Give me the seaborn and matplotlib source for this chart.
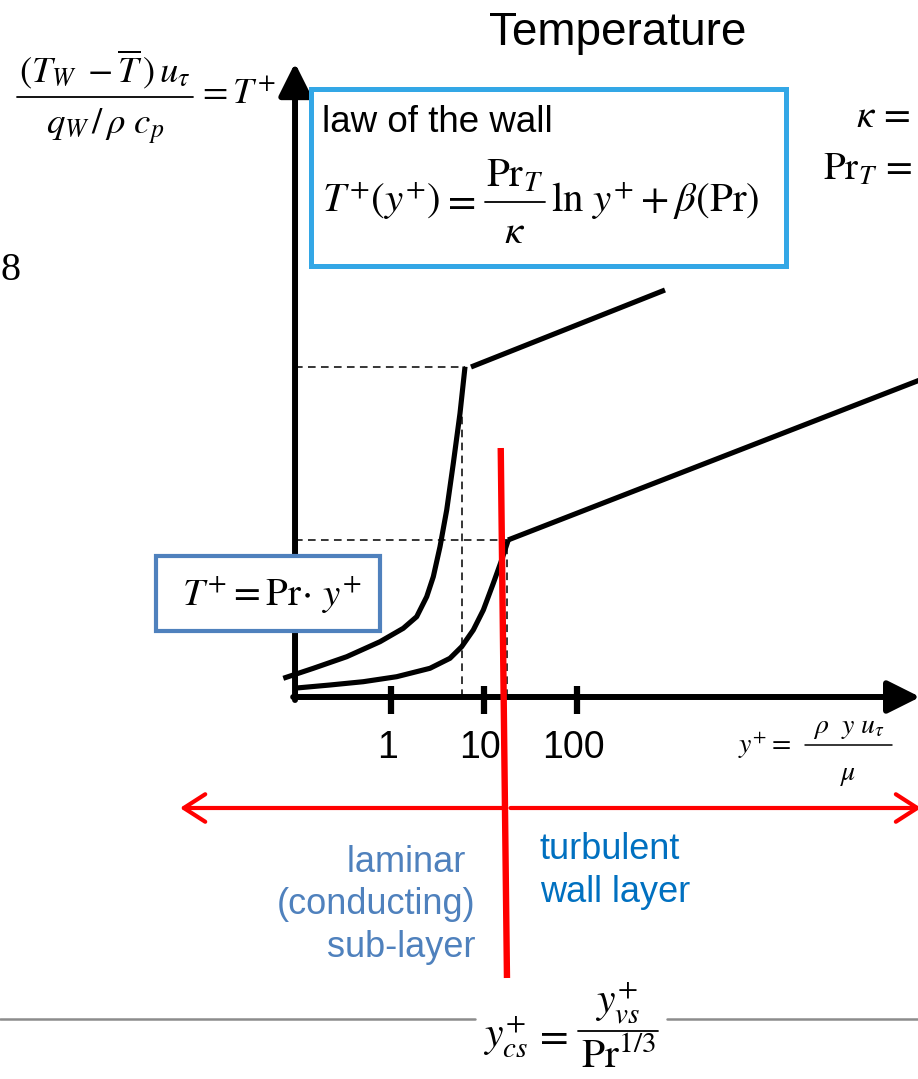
import numpy as np
import pandas as pd
import matplotlib
matplotlib.use("Agg")
import matplotlib.pyplot as plt
from matplotlib.patches import Rectangle
import seaborn as sns

# ---- schematic data: x = log10(y+), y = T+ (arbitrary units) ----
tick_values = [1, 10, 100]
tick_labels = ["1", "10", "100"]

# high-Pr profile: conducting sub-layer branch, then log-law branch
hi_sub_x = [-1.158, -0.835, -0.476, -0.118, 0.132, 0.276, 0.384, 0.455,
            0.527, 0.599, 0.670, 0.742, 0.796]
hi_sub_T = [1.87, 2.87, 4.03, 5.53, 6.87, 8.03, 10.03, 12.03,
            15.03, 18.7, 23.37, 28.37, 33.03]
hi_log_x = [0.860, 2.946]
hi_log_T = [33.0, 40.7]

# low-Pr profile
lo_sub_x = [-1.051, -0.656, -0.298, 0.061, 0.419, 0.634, 0.760, 0.885,
            0.993, 1.100, 1.190, 1.261]
lo_sub_T = [0.87, 1.2, 1.53, 2.03, 2.87, 3.87, 5.03, 6.7,
            8.7, 11.37, 13.7, 15.7]
lo_log_x = [1.258, 5.742]
lo_log_T = [15.7, 31.9]

# guide levels (dashed) and the y_cs+ divider
guide_T = [33.0, 15.7]
guide_x_end = [0.796, 1.26]
guide_vx = [0.763, 1.247]
guide_vT = [28.4, 15.7]
ycs_x = [1.180, 1.247]
ycs_T = [24.9, -28.1]

# axis frame of the sketch
x_origin = -1.032
x_tip = 5.69
T_tip = 63.4
layer_arrow_T = -11.1
layer_arrow_left = -2.269

W, H = 918, 1079

sns.set_theme(style="white")
plt.rcParams["font.family"] = ["Liberation Sans", "DejaVu Sans"]
plt.rcParams["mathtext.fontset"] = "stix"

fig = plt.figure(figsize=(W / 100, H / 100), dpi=100)
ax = fig.add_axes([0, 0, 1, 1])
ax.set_xlim(-391 / 93, (W - 391) / 93)
ax.set_ylim((697 - H) / 10, 697 / 10)
ax.axis("off")


def fig_pos(px, py):
    return px / W, 1 - py / H


def put(px, py, s, size, ha="left", va="baseline", **kw):
    kw.setdefault("color", "black")
    return fig.text(*fig_pos(px, py), s, ha=ha, va=va, fontsize=size, **kw)


def fraction(x0, x1, bar_y, num, num_base, den, den_base, size, lw=1.3):
    cx = 0.5 * (x0 + x1)
    put(cx, num_base, num, size, ha="center", zorder=8)
    put(cx, den_base, den, size, ha="center", zorder=8)
    fig.add_artist(plt.Line2D([x0 / W, x1 / W], [1 - bar_y / H] * 2,
                              color="black", lw=lw,
                              transform=fig.transFigure, zorder=8))


# ---- coordinate arrows ----
arrow_kw = dict(arrowstyle="-|>,head_length=0.9,head_width=0.45",
                color="black", lw=4.3, shrinkA=0, shrinkB=0,
                mutation_scale=22)
ax.annotate("", xy=(x_origin, T_tip), xytext=(x_origin, -0.3),
            arrowprops=arrow_kw, zorder=3, annotation_clip=False)
ax.annotate("", xy=(x_tip, 0), xytext=(x_origin - 0.02, 0),
            arrowprops=arrow_kw, zorder=3, annotation_clip=False)

# decade ticks
tick_x = np.log10(tick_values)
ax.vlines(tick_x, -1.7, 1.1, color="black", lw=4.5, zorder=3)
for tx, lab in zip(tick_x, tick_labels):
    ax.text(tx - 0.04, -5.1, lab, ha="center", va="center", fontsize=27,
            color="black")

# ---- dashed guides ----
for T, xe in zip(guide_T, guide_x_end):
    ax.plot([x_origin, xe], [T, T], color="black", lw=1.1,
            ls=(0, (5, 3.5)), zorder=2)
for vx, vT in zip(guide_vx, guide_vT):
    ax.plot([vx, vx], [0, vT], color="black", lw=1.1,
            ls=(0, (5, 3.5)), zorder=2)

# ---- temperature profiles ----
profiles = [(hi_sub_x, hi_sub_T), (hi_log_x, hi_log_T),
            (lo_sub_x, lo_sub_T), (lo_log_x, lo_log_T)]
for xs, Ts in profiles:
    sns.lineplot(x=xs, y=Ts, ax=ax, color="black", lw=3.7, sort=False,
                 estimator=None, zorder=4,
                 solid_capstyle="butt", solid_joinstyle="round")

# ---- layer divider and extent arrows ----
red = "#FF0000"
ax.plot(ycs_x, ycs_T, color=red, lw=4.6, zorder=5, solid_capstyle="butt")
red_kw = dict(arrowstyle="->,head_length=0.7,head_width=0.45", color=red,
              lw=3.0, shrinkA=0, shrinkB=0, mutation_scale=22,
              capstyle="round")
ax.annotate("", xy=(layer_arrow_left, layer_arrow_T),
            xytext=(1.20, layer_arrow_T), arrowprops=red_kw, zorder=5,
            annotation_clip=False)
ax.annotate("", xy=(x_tip + 0.01, layer_arrow_T),
            xytext=(1.285, layer_arrow_T), arrowprops=red_kw, zorder=5,
            annotation_clip=False)

# ---- boxes ----
box1 = Rectangle(fig_pos(311, 266), (786 - 311) / W, (266 - 89) / H,
                 transform=fig.transFigure, facecolor="white",
                 edgecolor="#33A7E6", lw=3.6, zorder=6)
box2 = Rectangle(fig_pos(155.5, 631), (379.5 - 155.5) / W, (631 - 556) / H,
                 transform=fig.transFigure, facecolor="white",
                 edgecolor="#4F81BD", lw=3.0, zorder=6)
ax.add_patch(box1)
ax.add_patch(box2)

# ---- text ----
put(618, 33, "Temperature", 33, ha="center", va="center")
put(322, 123, "law of the wall", 26.5, va="center", zorder=8)

# law of the wall formula
put(322, 212, r"$T^{+}(y^{+})$", 29.5, zorder=8)
put(476, 212, r"$=$", 29.5, ha="right", zorder=8)
fraction(485, 545, 202, r"$\mathrm{Pr}_{T}$", 187, r"$\kappa$", 243, 29.5)
put(551, 212, r"$\ln\,y^{+} + \beta(\mathrm{Pr})$", 29.5, zorder=8)

# dimensionless temperature definition
fraction(17, 193, 97, r"$(T_{W}\;-\overline{T}\,)\,u_{\tau}$", 82,
         r"$q_{W}\,/\,\rho\ c_{p}$", 134, 26.5)
put(197, 103, r"$=T^{+}$", 26.5)

put(856, 117, r"$\kappa\, =$", 28, va="center")
put(823, 170, r"$\mathrm{Pr}_{T}\, =$", 28, va="center")
put(0, 271, "8", 29, va="center",
    family=["Liberation Serif", "DejaVu Serif"])

put(272, 605, r"$T^{+} = \mathrm{Pr}\!\cdot\, y^{+}$", 28, ha="center",
    zorder=8)

# wall coordinate definition
put(738, 753, r"$y^{+} =$", 20)
fraction(805, 892, 745, r"$\rho\ \ y\ u_{\tau}$", 733, r"$\mu$", 780, 20,
         lw=1.1)

put(475, 905, "laminar \n(conducting)\nsub-layer", 26, ha="right",
    va="center", multialignment="right", color="#4F81BD", linespacing=1.28)
put(540, 871, "turbulent\nwall layer", 26, va="center",
    multialignment="left", color="#0070C0", linespacing=1.28)

# bottom rule with y_cs+ definition
gray = "#8C8C8C"
fig.add_artist(plt.Line2D([0, 475 / W], [1 - 1019 / H] * 2, color=gray,
                          lw=1.8, transform=fig.transFigure))
fig.add_artist(plt.Line2D([667 / W, 1], [1 - 1019 / H] * 2, color=gray,
                          lw=1.8, transform=fig.transFigure))
put(483, 1047, r"$y^{+}_{cs}$", 30)
put(568, 1047, r"$=$", 30, ha="right")
fraction(578, 658, 1031, r"$y^{+}_{vs}$", 1013, r"$\mathrm{Pr}^{1/3}$",
         1068, 30)

fig.savefig("out.png", dpi=100)
